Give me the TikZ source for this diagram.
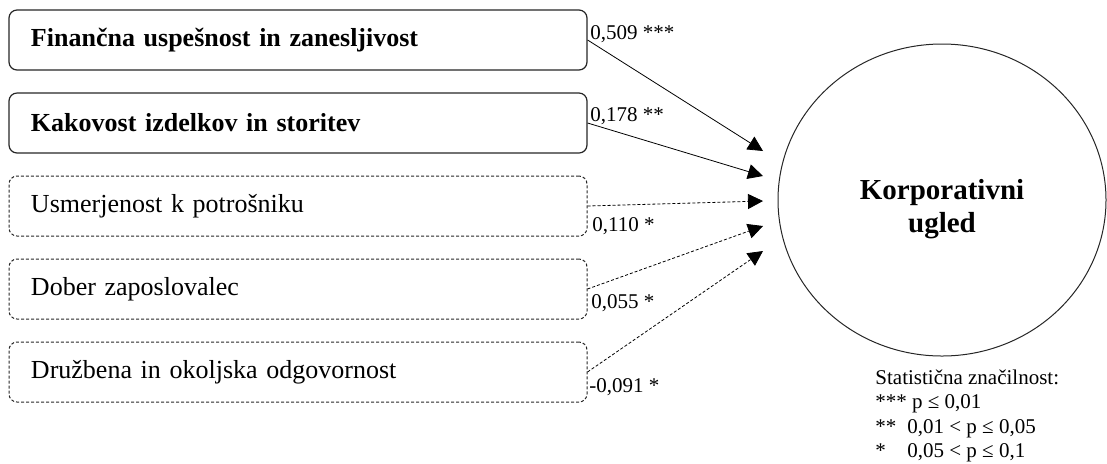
\documentclass[tikz,border=0pt]{standalone}
\usepackage{fontspec}
\setmainfont{Liberation Serif}
\usetikzlibrary{positioning,shapes.geometric,arrows.meta}

\begin{document}
\begin{tikzpicture}[x=0.5pt, y=-0.5pt, -{Triangle[length=7.5pt,width=7.5pt]},
    line width=0.4pt, node distance=41.5pt, on grid,
    factor/.style={rectangle, rounded corners=4pt, draw=black!85, line width=0.6pt,
      minimum width=289pt, minimum height=30pt, text width=267pt, align=left,
      inner xsep=11pt, font=\fontsize{13pt}{15pt}\selectfont},
    strong/.style={factor, font=\fontsize{13pt}{15pt}\selectfont\bfseries},
    weak/.style={factor, line width=0.5pt, dash pattern=on 1.5pt off 1pt},
    weaklink/.style={dash pattern=on 1.5pt off 1pt},
    construct/.style={ellipse, draw=black!85, line width=0.5pt,
      minimum width=164pt, minimum height=156pt},
    heading/.style={align=center, font=\fontsize{14.5pt}{16.5pt}\selectfont\bfseries},
    coef/.style={inner sep=0pt, anchor=base west, font=\fontsize{10.5pt}{12pt}\selectfont}
    ]
    \useasboundingbox (0,0) rectangle (1107,463);

    % dimensions of the reputation
    \node (FU) [strong] at (298,40) {Finančna uspešnost in zanesljivost};
    \node (KI) [strong, below=of FU] {Kakovost izdelkov in storitev};
    \node (UP) [weak, below=of KI] {Usmerjenost k potrošniku};
    \node (DZ) [weak, below=of UP] {Dober zaposlovalec};
    \node (DO) [weak, below=of DZ] {Družbena in okoljska odgovornost};

    % the construct
    \node (KU) [construct] at (942,200) {};
    \node (KUt) [heading] at (942,209) {Korporativni\\ugled};

    % arrow ends in front of the ellipse
    \coordinate (t1) at (763,151);
    \coordinate (t2) at (763,176);
    \coordinate (t3) at (763,201);
    \coordinate (t4) at (763,226);
    \coordinate (t5) at (763,251);

    \draw (FU.east) -- (t1);
    \draw (KI.east) -- (t2);
    \draw[weaklink] (UP.east) -- (t3);
    \draw[weaklink] (DZ.east) -- (t4);
    \draw[weaklink] (DO.east) -- (t5);

    % path coefficients
    \node (c1) [coef] at (590,39) {0,509 ***};
    \node (c2) [coef] at (590,121) {0,178 **};
    \node (c3) [coef] at (592,231) {0,110 *};
    \node (c4) [coef] at (591,308) {0,055 *};
    \node (c5) [coef] at (589,392) {-0,091 *};

    \node (sig) [inner sep=0pt, anchor=north west, align=left,
      font=\fontsize{10.5pt}{12.25pt}\selectfont] at (875,369)
      {Statistična značilnost:\\
       *** p ≤ 0,01\\
       \makebox[16pt][l]{**}0,01 < p ≤ 0,05\\
       \makebox[16pt][l]{*}0,05 < p ≤ 0,1};
\end{tikzpicture}
\end{document}
